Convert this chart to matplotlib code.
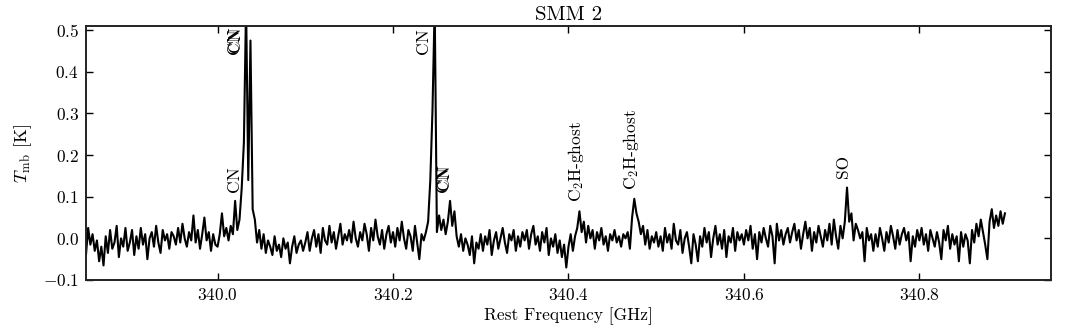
import numpy as np
import matplotlib
matplotlib.use('Agg')
import matplotlib.pyplot as plt
from matplotlib.ticker import FuncFormatter

plt.rcParams['font.family'] = 'serif'
plt.rcParams['font.serif'] = ['cmr10']
plt.rcParams['mathtext.fontset'] = 'cm'
plt.rcParams['axes.formatter.use_mathtext'] = True

# channel grid of the spectrum (GHz)
freq_start = 339.85
freq_step = 0.0025

# main-beam temperature in mK, one row per 0.05 GHz (20 channels)
tmb_mK = [
    -40, 25, -15, 10, -30, -5, -55, -20, -65, 5, -35, 20, -25, -10, 30, -45, 0, -20, 25, -30,
    -10, 20, -40, 5, -25, 25, -15, 10, -50, 0, 15, -20, 30, -10, -35, 20, -5, 10, -25, 15,
    5, -15, 25, -10, 35, 0, -20, 15, -5, 55, -10, 20, -25, 10, 50, -5, 15, -30, 10, -15,
    -20, 10, 60, 5, 25, -5, 30, 10, 90, 20, 45, 120, 230, 560, 140, 475, 70, 45, -10, 20,
    -25, 10, -35, -5, -20, -40, 5, -30, -15, -45, 0, -25, -10, -60, -20, 5, -35, -15, -5, -30,
    -10, 15, -30, 0, 20, -20, 10, -35, 25, -5, -15, 30, -10, 15, -25, 5, 35, -15, 10, -5,
    20, -10, 40, 0, -20, 15, -5, 35, 10, -30, 25, -5, 45, 5, -15, 20, -25, 10, 30, -10,
    15, -20, 25, -5, 40, 0, -25, 20, 5, -30, 30, -10, -50, 10, -5, 15, 40, 140, 310, 560,
    15, 55, 20, 45, 10, 40, 90, 30, 65, 5, -20, 10, -30, 0, -15, -40, 5, -60, -10, -25,
    10, -30, 5, -15, 20, -40, -5, 15, -25, 0, 25, -10, -35, 10, -5, 20, -30, 5, -20, 15,
    -5, 20, -25, 10, 30, -15, 5, -30, 15, -10, 25, -40, 0, -20, 10, -35, -5, -45, -15, -70,
    -20, 10, -30, 5, 25, 65, 15, 40, -10, 30, 0, 20, -25, 15, -5, 25, -15, 5, -30, 10,
    -5, 20, -10, 5, -20, 10, 0, 15, -25, 50, 95, 60, 40, 10, 30, -15, 20, -25, 5, -10,
    15, -20, 5, -30, 25, -10, 10, -25, 35, -5, -15, 20, -35, 0, 15, -20, -60, 10, -15, -55,
    5, -20, 25, -10, 15, -45, 0, 30, -15, 10, -25, 20, -45, 5, -10, 25, -30, 15, -5, 10,
    -15, 20, -5, 30, -25, 10, -50, 15, -10, 25, 0, -20, 30, 5, -60, 35, -5, 20, -15, 10,
    25, -10, 15, 35, -5, 20, -25, 10, 40, 0, 25, -30, 15, -10, 30, 5, -20, 20, -5, 35,
    -15, 45, 5, -25, 30, 0, 40, 122, 40, 60, -5, 35, 20, 0, 15, -55, 25, -5, 10, -30,
    10, -20, 25, 0, -30, 15, -10, 30, 5, -25, 20, -15, 10, 25, -5, 15, -55, 5, -20, 20,
    -5, 25, -15, 10, -30, 20, 0, -20, 15, -10, -50, 20, -5, 30, -25, 10, -15, 5, -55, 15,
    -20, 10, -5, -60, 20, -10, 35, 5, 45, 15, -15, -50, 40, 70, 25, 55, 30, 65, 35, 60,
]

# line labels: name, frequency, height of label base
line_names = ['CN', 'CN', 'CN', 'CN', 'CN', 'CN',
              'C$_2$H-ghost', 'C$_2$H-ghost', 'SO']
line_freqs = [340.0186, 340.0192, 340.0198, 340.2347, 340.2576, 340.2588,
              340.4088, 340.4712, 340.7137]
line_ypos = [0.112, 0.442, 0.448, 0.443, 0.111, 0.117,
             0.088, 0.115, 0.144]

tmb = np.array(tmb_mK) / 1000.0
freq = freq_start + freq_step * np.arange(len(tmb))

fig = plt.figure(figsize=(10.72, 3.31), dpi=100)
ax = fig.add_axes([0.0802, 0.1541, 0.9002, 0.7674])
ax.plot(freq, tmb, color='black', linewidth=1.5)

for name, f, y in zip(line_names, line_freqs, line_ypos):
    ax.text(f, y, name, rotation=90, ha='center', va='bottom', fontsize=12.5)

fmt = FuncFormatter(lambda v, pos: r'$\mathdefault{%.1f}$' % v)
ax.set_xlim(339.85, 340.95)
ax.set_ylim(-0.1, 0.51)
ax.set_xticks([340.0, 340.2, 340.4, 340.6, 340.8])
ax.set_yticks([-0.1, 0.0, 0.1, 0.2, 0.3, 0.4, 0.5])
ax.xaxis.set_major_formatter(fmt)
ax.yaxis.set_major_formatter(fmt)
ax.tick_params(direction='in', top=True, right=True, length=5, width=1,
               labelsize=12.5, pad=5)
for s in ax.spines.values():
    s.set_linewidth(1.4)
    s.set_color('#222222')

ax.set_xlabel('Rest Frequency [GHz]', fontsize=12.5, labelpad=3)
ax.set_ylabel(r'$T_{\rm mb}$ [K]', fontsize=13, labelpad=6)
ax.set_title('SMM 2', fontsize=15, pad=4)

fig.savefig('out.png', dpi=100)
